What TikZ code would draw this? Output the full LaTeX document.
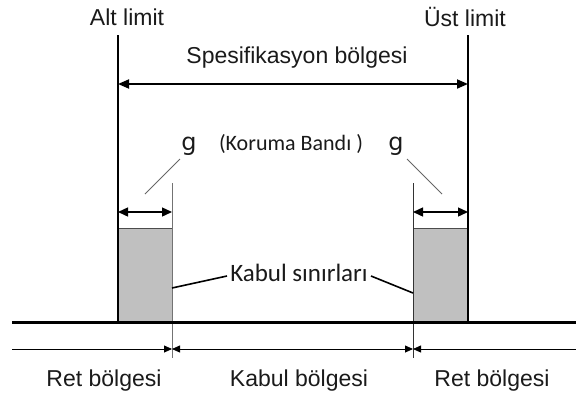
\documentclass[tikz,border=0pt]{standalone}
\usepackage{fontspec}
\setmainfont{Liberation Sans}
\newfontfamily\carlfont{Carlito}
\newfontfamily\gfont{DejaVu Sans}
\usetikzlibrary{arrows.meta}
\definecolor{boxgray}{HTML}{C0C0C0}
\definecolor{txt}{HTML}{1A1A1A}
\tikzset{
  ztip/.tip={Triangle[length=8pt,width=7pt]},
  btip/.tip={Triangle[length=11pt,width=9pt]},
  gtip/.tip={Triangle[length=10pt,width=9pt]},
  lbl/.style={inner sep=0pt, text=txt, font=\fontsize{23}{27}\selectfont},
  clbl/.style={inner sep=0pt, text=txt, font=\carlfont\fontsize{22}{26}\selectfont},
  glbl/.style={inner sep=0pt, text=txt, font=\gfont\fontsize{24}{28}\selectfont},
  limitline/.style={line width=2pt, black},
  bigarrow/.style={line width=1.8pt, btip-btip},
  garrow/.style={line width=1.4pt, gtip-gtip},
  guard/.style={line width=1pt, black!55},
  leader/.style={line width=1.6pt, black},
  gleader/.style={line width=0.8pt, black!60},
  zonearrow/.style={line width=0.8pt, black},
  shade/.style={fill=boxgray, draw=black!70, line width=0.8pt}
}
\begin{document}
\begin{tikzpicture}[x=1pt,y=-1pt]
\useasboundingbox (0,0) rectangle (576,394);
% shaded guard bands
\path[shade] (118,228) rectangle (172,322);
\path[shade] (413,228) rectangle (468,322);
% labels
\node[lbl] (alt) at (127,17) {Alt limit};
\node[lbl] (ust) at (465,17) {Üst limit};
\node[lbl] (spec) at (297,58) {Spesifikasyon bölgesi};
\node[clbl] (kor) at (291,144) {(Koruma Bandı )};
\node[glbl, anchor=base] (gl) at (189,150) {g};
\node[glbl, anchor=base] (gr) at (396,150) {g};
\node[clbl, font=\carlfont\fontsize{25}{29}\selectfont] (kab) at (299,273) {Kabul sınırları};
\node[lbl] (ret1) at (104,381) {Ret bölgesi};
\node[lbl] (kabz) at (299,381) {Kabul bölgesi};
\node[lbl] (ret2) at (492,381) {Ret bölgesi};
% coordinates
\coordinate (LLt) at (118,35);
\coordinate (LLb) at (118,322);
\coordinate (RLt) at (468,35);
\coordinate (RLb) at (468,322);
\coordinate (SA) at (118,84);
\coordinate (SB) at (468,84);
\coordinate (LGt) at (172,183);
\coordinate (LGb) at (172,358);
\coordinate (RGt) at (413,183);
\coordinate (RGb) at (413,358);
\coordinate (GLa) at (118,212);
\coordinate (GLb) at (172,212);
\coordinate (GRa) at (413,212);
\coordinate (GRb) at (468,212);
\coordinate (BL) at (12,322);
\coordinate (BR) at (576,322);
\coordinate (ZL) at (12,349);
\coordinate (Z1) at (172,349);
\coordinate (Z2) at (413,349);
\coordinate (ZR) at (576,349);
\coordinate (gl1) at (145,194);
\coordinate (gl2) at (180,159);
\coordinate (gr1) at (407,159);
\coordinate (gr2) at (442,194);
\coordinate (kl) at (172,288);
\coordinate (kl2) at (227,276);
\coordinate (kr) at (371,276);
\coordinate (kr2) at (413,293);
% limit lines
\draw[limitline] (LLt) -- (LLb);
\draw[limitline] (RLt) -- (RLb);
% spec arrow
\draw[bigarrow] (SA) -- (SB);
% guard lines
\draw[guard] (LGt) -- (LGb);
\draw[guard, black!80] (RGt) -- (RGb);
% g arrows
\draw[garrow] (GLa) -- (GLb);
\draw[garrow] (GRa) -- (GRb);
% g leaders
\draw[gleader] (gl1) -- (gl2);
\draw[gleader] (gr1) -- (gr2);
% baseline
\draw[line width=3pt] (BL) -- (BR);
% zone arrows
\draw[zonearrow, -ztip] (ZL) -- (Z1);
\draw[zonearrow, ztip-ztip] (Z1) -- (Z2);
\draw[zonearrow, ztip-] (Z2) -- (ZR);
% acceptance limit leaders
\draw[leader] (kl) -- (kl2);
\draw[leader] (kr) -- (kr2);
\end{tikzpicture}
\end{document}
